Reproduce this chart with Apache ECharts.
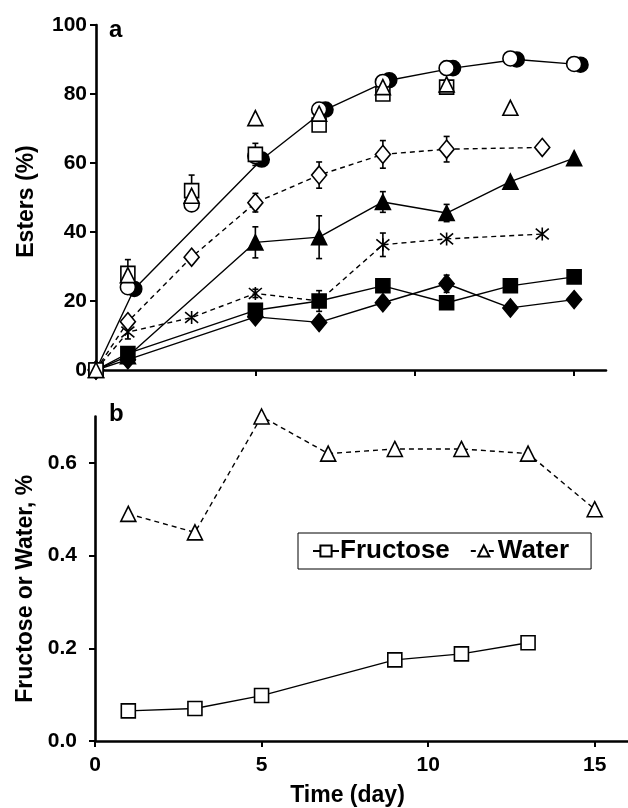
<!DOCTYPE html>
<html>
<head>
<meta charset="utf-8">
<title>Esters and fructose/water over time</title>
<script src="https://cdn.jsdelivr.net/npm/echarts@6/dist/echarts.min.js"></script>
<style>
  html, body { margin: 0; padding: 0; background: #fff; }
  #chart { width: 628px; height: 808px; }
</style>
</head>
<body>
<div id="chart"></div>
<script>
// ---- Panel a: ester yield (%) vs time (day) ----
const daysMain = [0, 1, 5, 7, 9, 11, 13, 15];
const daysDash = [0, 1, 3, 5, 7, 9, 11, 14];
const daysOpen = [0, 1, 3, 5, 7, 9, 11, 13, 15];
const daysFilledCircle = [0, 1.2, 5.2, 7.2, 9.2, 11.2, 13.2, 15.2];
const daysOpenSquare = [0, 1, 3, 5, 7, 9, 11];
const daysOpenTriangle = [0, 1, 3, 5, 7, 9, 11, 13];

const filledCircle = [0, 23.5, 61, 75.5, 84, 87.5, 90, 88.5];
const openCircle = [0, 24, 48, 62, 75.5, 83.5, 87.5, 90.3, 88.7];
const openSquare = [0, 28, 52, 62.5, 71, 80, 82];
const openTriangle = [0, 27.5, 50.5, 73, 74.3, 82, 82.8, 76];
const openDiamond = [0, 14, 32.7, 48.5, 56.5, 62.5, 64, 64.5];
const filledTriangle = [0, 4, 37, 38.5, 48.7, 45.5, 54.6, 61.4];
const asterisk = [0, 11, 15.2, 22.2, 20, 36.3, 38, 39.4];
const filledSquare = [0, 4.8, 17.3, 20, 24.4, 19.5, 24.4, 27];
const filledDiamond = [0, 3, 15.4, 13.8, 19.5, 25, 18, 20.4];

// error bars: [day, half-width]
const errOpenSquare = [[1, 4], [3, 4.5], [5, 3.2]];
const errOpenDiamond = [[5, 2.7], [7, 3.8], [9, 4], [11, 3.7]];
const errFilledTriangle = [[5, 4.5], [7, 6.2], [9, 3], [11, 2.5]];
const errAsterisk = [[1, 2], [5, 1.2], [9, 3.4]];
const errFilledSquare = [[7, 3]];
const errFilledDiamond = [[11, 2.5]];

const esterTicks = [0, 20, 40, 60, 80, 100];
const dayTicks = [0, 5, 10, 15];

// ---- Panel b: fructose and water content (%) ----
const daysFructose = [1, 3, 5, 9, 11, 13];
const fructose = [0.065, 0.07, 0.098, 0.175, 0.188, 0.212];
const daysWater = [1, 3, 5, 7, 9, 11, 13, 15];
const water = [0.49, 0.45, 0.70, 0.62, 0.63, 0.63, 0.62, 0.50];
const contentTicks = [0, 0.2, 0.4, 0.6];

const FONT = '"Liberation Sans", Arial, sans-serif';
const pairs = (xs, ys) => xs.map((x, i) => [x, ys[i]]);
const errData = (errs, xs, ys) => errs.map(([d, e]) => {
  const v = ys[xs.indexOf(d)];
  return [d, v - e, v + e];
});

const asteriskPath = 'path://M0 0L10 10M10 0L0 10M5 -1L5 11';

function errorBarSeries(data) {
  return {
    type: 'custom',
    xAxisIndex: 0, yAxisIndex: 0,
    z: 1,
    silent: true,
    data: data,
    renderItem(params, api) {
      const x = api.value(0);
      const top = api.coord([x, api.value(2)]);
      const bot = api.coord([x, api.value(1)]);
      const w = 3;
      const st = { stroke: '#000', lineWidth: 1.6 };
      return {
        type: 'group',
        children: [
          { type: 'line', shape: { x1: top[0], y1: top[1], x2: bot[0], y2: bot[1] }, style: st },
          { type: 'line', shape: { x1: top[0] - w, y1: top[1], x2: top[0] + w, y2: top[1] }, style: st },
          { type: 'line', shape: { x1: bot[0] - w, y1: bot[1], x2: bot[0] + w, y2: bot[1] }, style: st }
        ]
      };
    }
  };
}

function lineSeries(name, data, symbol, size, filled, dashed, withLine) {
  return {
    name: name,
    type: 'line',
    xAxisIndex: 0, yAxisIndex: 0,
    data: data,
    symbol: symbol,
    symbolSize: size,
    showAllSymbol: true,
    clip: false,
    z: 3,
    lineStyle: withLine
      ? { color: '#000', width: 1.4, type: dashed ? [5, 4] : 'solid' }
      : { width: 0, opacity: 0 },
    itemStyle: {
      color: filled ? '#000' : '#fff',
      borderColor: '#000',
      borderWidth: 1.6
    },
    emphasis: { disabled: true }
  };
}

const chart = echarts.init(document.getElementById('chart'), null, { renderer: 'canvas' });

const axisLineStyle = { show: true, lineStyle: { color: '#000', width: 2.6 } };
const tickStyle = { show: true, inside: false, length: 6, lineStyle: { color: '#000', width: 2 } };
const labelFont = { color: '#000', fontFamily: FONT, fontWeight: 'bold', fontSize: 21 };
const titleFont = { color: '#000', fontFamily: FONT, fontWeight: 'bold', fontSize: 23 };

chart.setOption({
  animation: false,
  backgroundColor: '#fff',
  grid: [
    { left: 96, top: 25, width: 510, height: 345, containLabel: false },
    { left: 95, top: 416.5, width: 536, height: 324.5, containLabel: false }
  ],
  xAxis: [
    {
      gridIndex: 0, type: 'value', min: 0, max: 16,
      axisLine: axisLineStyle,
      axisTick: Object.assign({ customValues: dayTicks }, tickStyle),
      axisLabel: { show: false },
      splitLine: { show: false }
    },
    {
      gridIndex: 1, type: 'value', min: 0, max: 16,
      axisLine: axisLineStyle,
      axisTick: Object.assign({ customValues: dayTicks }, tickStyle),
      axisLabel: Object.assign({ customValues: dayTicks, margin: 14 }, labelFont),
      splitLine: { show: false },
      name: 'Time (day)',
      nameLocation: 'middle',
      nameGap: 43,
      nameTextStyle: Object.assign({ padding: [0, 28, 0, 0] }, titleFont)
    }
  ],
  yAxis: [
    {
      gridIndex: 0, type: 'value', min: 0, max: 100,
      axisLine: axisLineStyle,
      axisTick: Object.assign({ customValues: esterTicks }, tickStyle),
      axisLabel: Object.assign({ customValues: esterTicks, margin: 9 }, labelFont),
      splitLine: { show: false },
      name: 'Esters (%)',
      nameLocation: 'middle',
      nameGap: 58,
      nameTextStyle: Object.assign({ padding: [0, 8, 0, 0] }, titleFont)
    },
    {
      gridIndex: 1, type: 'value', min: 0, max: 0.7,
      axisLine: axisLineStyle,
      axisTick: Object.assign({ customValues: contentTicks }, tickStyle),
      axisLabel: Object.assign({
        customValues: contentTicks, margin: 18,
        formatter: v => v.toFixed(1)
      }, labelFont),
      splitLine: { show: false },
      name: 'Fructose or Water, %',
      nameLocation: 'middle',
      nameGap: 57,
      nameTextStyle: Object.assign({ padding: [0, 20, 0, 0] }, titleFont)
    }
  ],
  legend: {
    data: ['Fructose', 'Water'],
    left: 298, top: 533,
    padding: [5, 22, 5, 14],
    itemGap: 20,
    itemWidth: 26,
    itemHeight: 14,
    borderColor: '#000',
    borderWidth: 1,
    backgroundColor: '#fff',
    selectedMode: false,
    textStyle: { color: '#000', fontFamily: FONT, fontWeight: 'bold', fontSize: 26, padding: [0, 0, 0, -4] }
  },
  graphic: [
    { type: 'text', left: 109, top: 18, style: { text: 'a', fill: '#000', font: 'bold 24px ' + FONT } },
    { type: 'text', left: 109, top: 402, style: { text: 'b', fill: '#000', font: 'bold 24px ' + FONT } }
  ],
  series: [
    errorBarSeries(errData(errOpenSquare, daysOpenSquare, openSquare)),
    errorBarSeries(errData(errOpenDiamond, daysDash, openDiamond)),
    errorBarSeries(errData(errFilledTriangle, daysMain, filledTriangle)),
    errorBarSeries(errData(errAsterisk, daysDash, asterisk)),
    errorBarSeries(errData(errFilledSquare, daysMain, filledSquare)),
    errorBarSeries(errData(errFilledDiamond, daysMain, filledDiamond)),

    lineSeries('Filled diamond', pairs(daysMain, filledDiamond), 'diamond', [15, 18], true, false, true),
    lineSeries('Filled square', pairs(daysMain, filledSquare), 'rect', 14, true, false, true),
    lineSeries('Asterisk', pairs(daysDash, asterisk), asteriskPath, 13, false, true, true),
    lineSeries('Filled triangle', pairs(daysMain, filledTriangle), 'triangle', 15, true, false, true),
    lineSeries('Open diamond', pairs(daysDash, openDiamond), 'diamond', [15, 18], false, true, true),
    lineSeries('Filled circle', pairs(daysFilledCircle, filledCircle), 'circle', 15, true, false, true),
    lineSeries('Open circle', pairs(daysOpen, openCircle), 'circle', 15, false, false, false),
    lineSeries('Open square', pairs(daysOpenSquare, openSquare), 'rect', 14, false, false, false),
    lineSeries('Open triangle', pairs(daysOpenTriangle, openTriangle), 'triangle', 15, false, false, false),

    {
      name: 'Fructose', type: 'line', xAxisIndex: 1, yAxisIndex: 1,
      data: pairs(daysFructose, fructose),
      symbol: 'rect', symbolSize: 14, showAllSymbol: true, clip: false, z: 3,
      lineStyle: { color: '#000', width: 1.4 },
      itemStyle: { color: '#fff', borderColor: '#000', borderWidth: 1.6 },
      emphasis: { disabled: true }
    },
    {
      name: 'Water', type: 'line', xAxisIndex: 1, yAxisIndex: 1,
      data: pairs(daysWater, water),
      symbol: 'triangle', symbolSize: 15, showAllSymbol: true, clip: false, z: 3,
      lineStyle: { color: '#000', width: 1.4, type: [5, 4] },
      itemStyle: { color: '#fff', borderColor: '#000', borderWidth: 1.6 },
      emphasis: { disabled: true }
    }
  ]
});
</script>
</body>
</html>
